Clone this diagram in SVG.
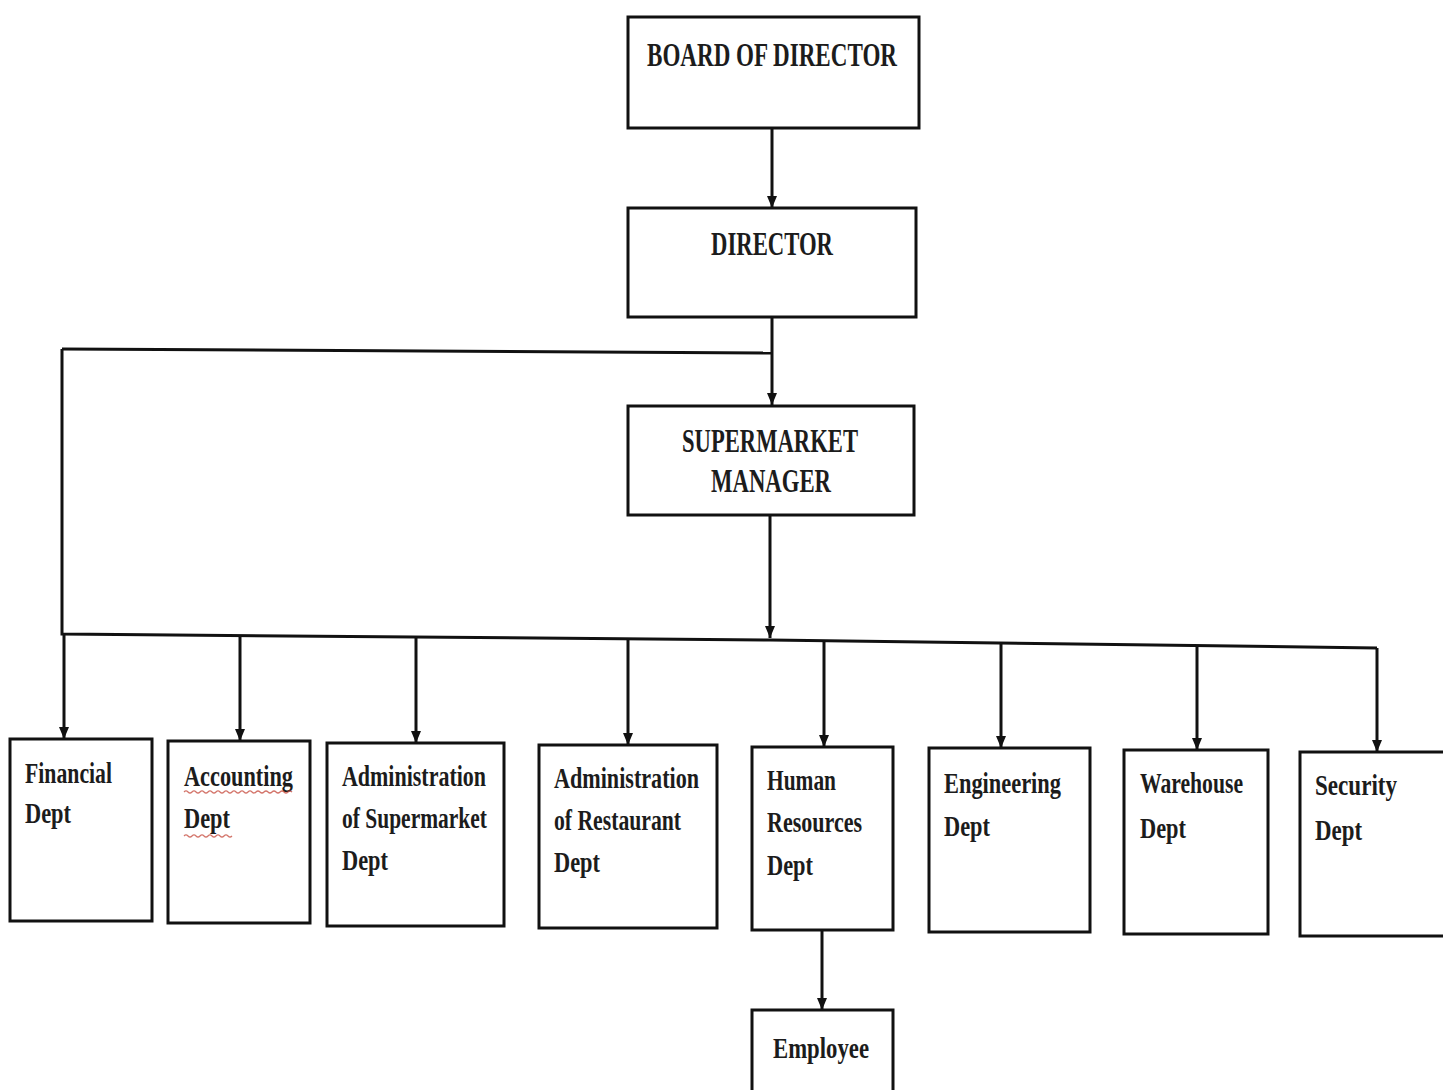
<svg xmlns="http://www.w3.org/2000/svg" width="1443" height="1090" viewBox="0 0 1443 1090">
<style>
.box{fill:#fff;stroke:#111;stroke-width:3}
.ln{fill:none;stroke:#111;stroke-width:3;marker-end:url(#ah)}
.plain{fill:none;stroke:#111;stroke-width:3}
.t{font-family:"Liberation Serif","DejaVu Serif",serif;font-size:30px;font-weight:bold;fill:#1c1c1c}
.h{font-size:34px}
</style>
<defs>
<marker id="ah" viewBox="0 0 12 10" refX="12" refY="5" markerWidth="12" markerHeight="10" markerUnits="userSpaceOnUse" orient="auto">
<path d="M0,0 L12,5 L0,10 Z" fill="#111"/>
</marker>
</defs>
<rect width="1443" height="1090" fill="#fff"/>
<g id="connectors">
<path class="ln" d="M772,128 V208"/>
<path class="ln" d="M772,317 V405"/>
<path class="plain" d="M62,349 L772,353"/>
<path class="ln" d="M770,515 V638"/>
<path class="plain" d="M62,349 V634 L770,640 L1377,648"/>
<path class="ln" d="M64,634 V739"/>
<path class="ln" d="M240,636 V741"/>
<path class="ln" d="M416,637 V743"/>
<path class="ln" d="M628,639 V745"/>
<path class="ln" d="M824,641 V747"/>
<path class="ln" d="M1001,643 V748"/>
<path class="ln" d="M1197,646 V750"/>
<path class="ln" d="M1377,648 V752"/>
<path class="ln" d="M822,930 V1010"/>
</g>
<g id="board">
<rect class="box" x="628" y="17" width="291" height="111"/>
<text class="t h" x="647" y="66" textLength="250" lengthAdjust="spacingAndGlyphs">BOARD OF DIRECTOR</text>
</g>
<g id="director">
<rect class="box" x="628" y="208" width="288" height="109"/>
<text class="t h" x="711" y="255" textLength="122" lengthAdjust="spacingAndGlyphs">DIRECTOR</text>
</g>
<g id="manager">
<rect class="box" x="628" y="406" width="286" height="109"/>
<text class="t h" x="682" y="452" textLength="176" lengthAdjust="spacingAndGlyphs">SUPERMARKET</text>
<text class="t h" x="711" y="492" textLength="120" lengthAdjust="spacingAndGlyphs">MANAGER</text>
</g>
<g id="financial">
<rect class="box" x="10" y="739" width="142" height="182"/>
<text class="t" x="25" y="783" textLength="87" lengthAdjust="spacingAndGlyphs">Financial</text>
<text class="t" x="25" y="823" textLength="46" lengthAdjust="spacingAndGlyphs">Dept</text>
</g>
<g id="accounting">
<rect class="box" x="168" y="741" width="142" height="182"/>
<text class="t" x="184" y="786" textLength="109" lengthAdjust="spacingAndGlyphs">Accounting</text>
<text class="t" x="184" y="828" textLength="46" lengthAdjust="spacingAndGlyphs">Dept</text>
<path d="M184,792 q2,-2 4,0 t4,0 t4,0 t4,0 t4,0 t4,0 t4,0 t4,0 t4,0 t4,0 t4,0 t4,0 t4,0 t4,0 t4,0 t4,0 t4,0 t4,0 t4,0 t4,0 t4,0 t4,0 t4,0 t4,0 t4,0 t4,0 t4,0 M184,836 q2,-2 4,0 t4,0 t4,0 t4,0 t4,0 t4,0 t4,0 t4,0 t4,0 t4,0 t4,0 t4,0" fill="none" stroke="#c0392b" stroke-width="1.2" opacity="0.7"/>
</g>
<g id="admin-supermarket">
<rect class="box" x="327" y="743" width="177" height="183"/>
<text class="t" x="342" y="786" textLength="144" lengthAdjust="spacingAndGlyphs">Administration</text>
<text class="t" x="342" y="828" textLength="145" lengthAdjust="spacingAndGlyphs">of Supermarket</text>
<text class="t" x="342" y="870" textLength="46" lengthAdjust="spacingAndGlyphs">Dept</text>
</g>
<g id="admin-restaurant">
<rect class="box" x="539" y="745" width="178" height="183"/>
<text class="t" x="554" y="788" textLength="145" lengthAdjust="spacingAndGlyphs">Administration</text>
<text class="t" x="554" y="830" textLength="127" lengthAdjust="spacingAndGlyphs">of Restaurant</text>
<text class="t" x="554" y="872" textLength="46" lengthAdjust="spacingAndGlyphs">Dept</text>
</g>
<g id="hr">
<rect class="box" x="752" y="747" width="141" height="183"/>
<text class="t" x="767" y="790" textLength="69" lengthAdjust="spacingAndGlyphs">Human</text>
<text class="t" x="767" y="832" textLength="95" lengthAdjust="spacingAndGlyphs">Resources</text>
<text class="t" x="767" y="875" textLength="46" lengthAdjust="spacingAndGlyphs">Dept</text>
</g>
<g id="engineering">
<rect class="box" x="929" y="748" width="161" height="184"/>
<text class="t" x="944" y="793" textLength="117" lengthAdjust="spacingAndGlyphs">Engineering</text>
<text class="t" x="944" y="836" textLength="46" lengthAdjust="spacingAndGlyphs">Dept</text>
</g>
<g id="warehouse">
<rect class="box" x="1124" y="750" width="144" height="184"/>
<text class="t" x="1140" y="793" textLength="103" lengthAdjust="spacingAndGlyphs">Warehouse</text>
<text class="t" x="1140" y="838" textLength="46" lengthAdjust="spacingAndGlyphs">Dept</text>
</g>
<g id="security">
<rect class="box" x="1300" y="752" width="145" height="184"/>
<text class="t" x="1315" y="795" textLength="82" lengthAdjust="spacingAndGlyphs">Security</text>
<text class="t" x="1315" y="840" textLength="47" lengthAdjust="spacingAndGlyphs">Dept</text>
</g>
<g id="employee">
<rect class="box" x="752" y="1010" width="141" height="90"/>
<text class="t" x="773" y="1058" textLength="96" lengthAdjust="spacingAndGlyphs">Employee</text>
</g>
</svg>
